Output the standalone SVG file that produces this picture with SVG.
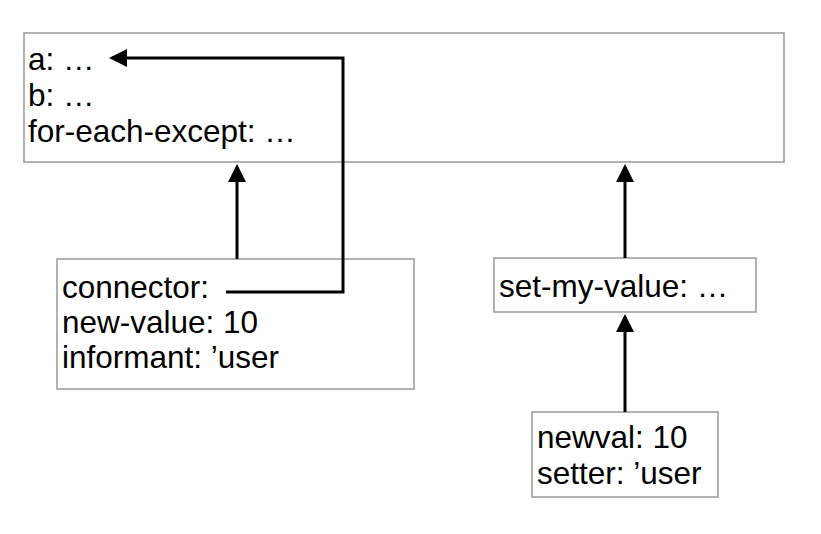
<svg xmlns="http://www.w3.org/2000/svg" width="821" height="534" viewBox="0 0 821 534">
<style>
.box{fill:#fff;stroke:#999;stroke-width:1.5}
.t{font-family:"Liberation Sans",Arial,sans-serif;font-size:31.5px;fill:#000}
.c{fill:none;stroke:#000;stroke-width:3}
</style>
<defs>
<marker id="ah" markerWidth="6" markerHeight="6" refX="5" refY="3" orient="auto" markerUnits="strokeWidth" viewBox="0 0 6 6">
<path d="M0,0 L6,3 L0,6 z" fill="#000"/>
</marker>
</defs>
<rect width="821" height="534" fill="#fff"/>
<g id="node-top">
<rect class="box" x="24" y="33" width="760" height="129"/>
<text class="t" x="28" y="70">a: …</text>
<text class="t" x="28" y="106">b: …</text>
<text class="t" x="28" y="142">for-each-except: …</text>
</g>
<g id="node-connector">
<rect class="box" x="57" y="259" width="357" height="130"/>
<text class="t" x="62" y="298">connector:</text>
<text class="t" x="62" y="333">new-value: 10</text>
<text class="t" x="62" y="368">informant: ’user</text>
</g>
<g id="node-setmy">
<rect class="box" x="494" y="258" width="262" height="54"/>
<text class="t" x="499" y="297">set-my-value: …</text>
</g>
<g id="node-newval">
<rect class="box" x="532" y="412" width="186" height="85"/>
<text class="t" x="537" y="448">newval: 10</text>
<text class="t" x="537" y="484">setter: ’user</text>
</g>
<g id="connectors">
<path class="c" d="M226,292 H343 V58 H112" marker-end="url(#ah)"/>
<path class="c" d="M237,259 V167" marker-end="url(#ah)"/>
<path class="c" d="M625,258 V167" marker-end="url(#ah)"/>
<path class="c" d="M625,412 V317" marker-end="url(#ah)"/>
</g>
</svg>
